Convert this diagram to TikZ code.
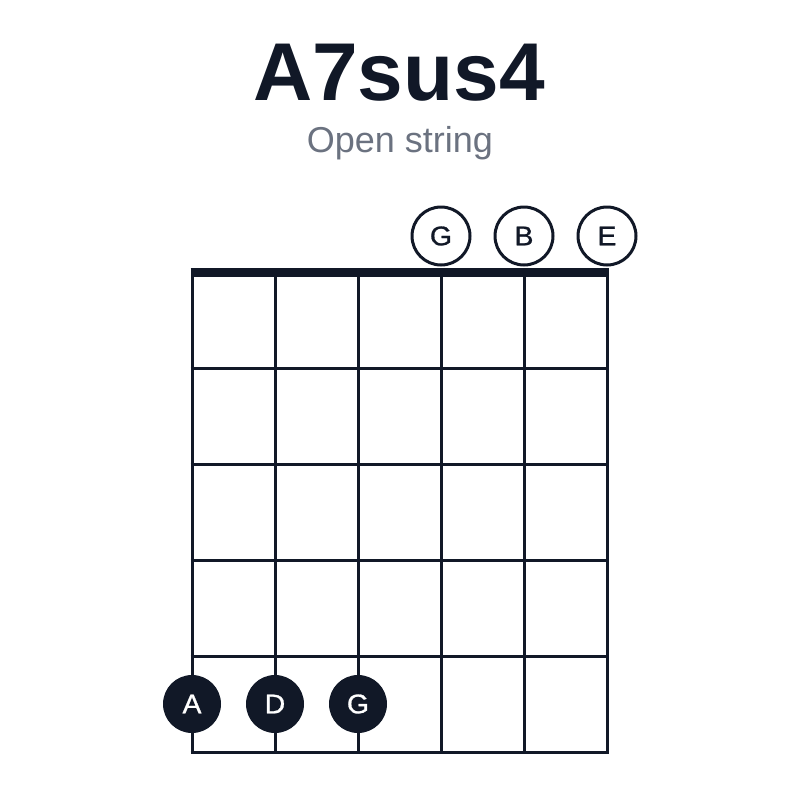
\documentclass[tikz,border=0pt]{standalone}
\usepackage{fontspec}
\setmainfont{Liberation Sans}
\newfontfamily\dotfont[FakeStretch=1.05,FakeBold=1]{Liberation Sans}
\definecolor{ink}{HTML}{111827}
\definecolor{subgray}{HTML}{6B7280}
\tikzset{
  open/.style={circle,draw=ink,line width=3pt,fill=white,inner sep=0pt,minimum size=58pt,text=ink,font=\dotfont\fontsize{27}{27}\selectfont},
  fretted/.style={circle,fill=ink,inner sep=0pt,minimum size=58pt,text=white,font=\dotfont\fontsize{27}{27}\selectfont}
}
\begin{document}
\begin{tikzpicture}[x=1pt,y=-1pt]
\useasboundingbox (0,0) rectangle (800,800);
\node[anchor=base,text=ink,font=\fontsize{82}{82}\selectfont\bfseries](title) at (399,100) {A7sus4};
\node[anchor=base,text=subgray,font=\fontsize{36}{36}\selectfont](sub) at (400,152) {Open string};

\foreach\s in {0,...,5}
\draw[ink,line width=3pt] (192+83*\s,272) -- (192+83*\s,753.5);
\foreach\f in {1,...,5}
\draw[ink,line width=3pt] (190.5,272+96*\f) -- (608.5,272+96*\f);
\draw[ink,line width=9pt] (190.5,272) -- (608.5,272);

\node[open](g3) at (441,236) {G};
\node[open](b2) at (524,236) {B};
\node[open](e1) at (607,236) {E};
\node[fretted](a5) at (192,704) {A};
\node[fretted](d4) at (275,704) {D};
\node[fretted](g3f) at (358,704) {G};
\end{tikzpicture}
\end{document}
